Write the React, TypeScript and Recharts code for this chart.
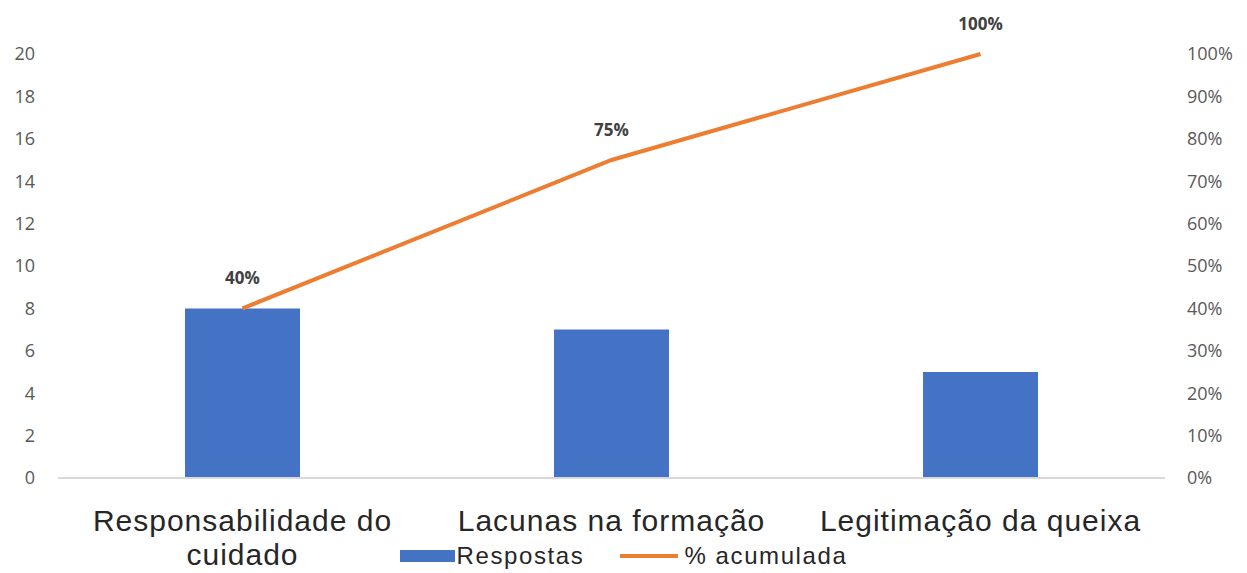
import React from "react";
import {
  ComposedChart,
  Bar,
  Line,
  XAxis,
  YAxis,
  Legend,
  LabelList,
} from "recharts";

const categories = [
  "Responsabilidade do cuidado",
  "Lacunas na formação",
  "Legitimação da queixa",
];
const respostas = [8, 7, 5];
const acumulada = [40, 75, 100];
const leftTicks = [0, 2, 4, 6, 8, 10, 12, 14, 16, 18, 20];
const rightTicks = [0, 10, 20, 30, 40, 50, 60, 70, 80, 90, 100];

const data = categories.map((c, i) => ({
  name: c,
  respostas: respostas[i],
  pct: acumulada[i],
}));

const wrap = (s: string, max: number) => {
  const words = s.split(" ");
  const lines: string[] = [];
  let cur = "";
  for (const w of words) {
    const next = cur ? cur + " " + w : w;
    if (next.length > max && cur) {
      lines.push(cur);
      cur = w;
    } else cur = next;
  }
  if (cur) lines.push(cur);
  return lines;
};

const CatTick = (props: any) => {
  const { x, y, payload } = props;
  const lines = wrap(String(payload.value), 22);
  return (
    <text
      x={x}
      y={y + 22}
      textAnchor="middle"
      fontSize={30}
      letterSpacing={1}
      fontFamily="Liberation Sans, Arial, sans-serif"
      fill="#262626"
    >
      {lines.map((l, i) => (
        <tspan key={i} x={x} dy={i === 0 ? "0.75em" : 34}>
          {l}
        </tspan>
      ))}
    </text>
  );
};

const LegendContent = () => (
  <div
    style={{
      display: "flex",
      justifyContent: "center",
      alignItems: "center",
      fontFamily: "Liberation Sans, Arial, sans-serif",
      fontSize: 24,
      letterSpacing: 1.6,
      color: "#262626",
      height: 40,
      paddingTop: 6,
      boxSizing: "border-box",
    }}
  >
    <div style={{ display: "flex", alignItems: "center" }}>
      <span style={{ display: "inline-block", width: 55, height: 12, background: "#4472C4", marginRight: 2 }} />
      <span>Respostas</span>
    </div>
    <div style={{ display: "flex", alignItems: "center", marginLeft: 36 }}>
      <span style={{ display: "inline-block", width: 58, height: 4, background: "#ED7D31", marginRight: 6 }} />
      <span>% acumulada</span>
    </div>
  </div>
);

export default function App() {
  return (
    <div style={{ position: "absolute", left: 0, top: 0, background: "#fff" }}>
      <ComposedChart
        width={1247}
        height={573}
        data={data}
        margin={{ top: 54, right: 0, bottom: 0, left: 0 }}
      >
        <XAxis
          dataKey="name"
          xAxisId="x"
          height={55}
          tickLine={false}
          axisLine={{ stroke: "#d9d9d9", strokeWidth: 2 }}
          tick={<CatTick />}
          interval={0}
        />
        <YAxis
          yAxisId="left"
          orientation="left"
          width={58}
          domain={[0, 20]}
          ticks={leftTicks}
          tickLine={false}
          axisLine={false}
          tickMargin={17}
          tick={{ fill: "#595959", fontSize: 18, fontFamily: "Open Sans, sans-serif" }}
        />
        <YAxis
          yAxisId="right"
          orientation="right"
          width={82}
          domain={[0, 100]}
          ticks={rightTicks}
          tickLine={false}
          axisLine={false}
          tickMargin={16}
          tickFormatter={(v: number) => `${v}%`}
          tick={{ fill: "#595959", fontSize: 18, fontFamily: "Open Sans, sans-serif", textAnchor: "start" }}
        />
        <Legend verticalAlign="bottom" height={40} content={<LegendContent />} />
        <Bar
          xAxisId="x"
          yAxisId="left"
          dataKey="respostas"
          name="Respostas"
          fill="#4472C4"
          barSize={115}
          isAnimationActive={false}
        />
        <Line
          xAxisId="x"
          yAxisId="right"
          dataKey="pct"
          name="% acumulada"
          stroke="#ED7D31"
          strokeWidth={4}
          dot={false}
          isAnimationActive={false}
        >
          <LabelList
            dataKey="pct"
            position="top"
            offset={24}
            formatter={(v: any) => `${v}%`}
            fill="#404040"
            fontWeight="bold"
            fontSize={17}
            fontFamily="Open Sans, sans-serif"
          />
        </Line>
      </ComposedChart>
    </div>
  );
}
